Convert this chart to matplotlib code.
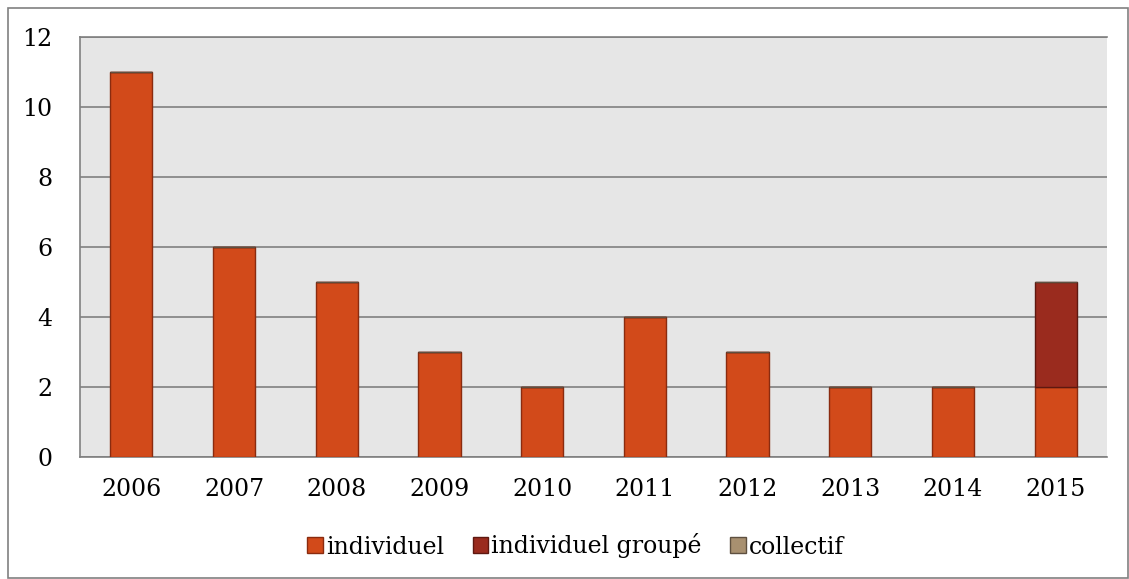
import numpy as np
import matplotlib.pyplot as plt
from matplotlib.patches import Rectangle

years = ['2006', '2007', '2008', '2009', '2010', '2011', '2012', '2013', '2014', '2015']
individuel = [11, 6, 5, 3, 2, 4, 3, 2, 2, 2]
individuel_groupe = [0, 0, 0, 0, 0, 0, 0, 0, 0, 3]
collectif = [0, 0, 0, 0, 0, 0, 0, 0, 0, 0]

plt.rcParams['font.family'] = ['DejaVu Serif']

fig = plt.figure(figsize=(11.29, 5.79), dpi=100)
ax = fig.add_axes([80 / 1129, 1 - 457 / 579, (1107 - 80) / 1129, (457 - 37) / 579])

# cadre extérieur
fig.patches.append(Rectangle((8 / 1129, 0.002), 1 - 8 / 1129 - 0.001, 1 - 8 / 579 - 0.002,
                             transform=fig.transFigure, fill=False,
                             edgecolor='#808080', linewidth=1.2))

x = np.arange(len(years))
w = 0.41
b1 = np.array(individuel)
b2 = b1 + np.array(individuel_groupe)

ax.bar(x, individuel, w, color='#D24A1A', edgecolor='#8A2B0F', linewidth=1, label='individuel', zorder=3)
ax.bar(x, individuel_groupe, w, bottom=b1, color='#9A2B1E', edgecolor='#5E1810', linewidth=1,
       label='individuel groupé', zorder=3)
ax.bar(x, collectif, w, bottom=b2, color='#A89070', edgecolor='#5E5040', linewidth=1,
       label='collectif', zorder=3)

ax.set_facecolor('#E6E6E6')
ax.set_xlim(-0.5, len(years) - 0.5)
ax.set_ylim(0, 12)
ax.set_yticks(range(0, 13, 2))
ax.set_xticks(x)
ax.set_xticklabels(years)
ax.yaxis.grid(True, color='#808080', linewidth=1.2, zorder=1)
ax.tick_params(axis='x', length=0, labelsize=17, pad=15)
ax.tick_params(axis='y', length=0, labelsize=17, pad=20)

ax.spines['right'].set_visible(False)
for s in ['left', 'top', 'bottom']:
    ax.spines[s].set_color('#808080')
    ax.spines[s].set_linewidth(1.2)

fig.legend(loc='center', bbox_to_anchor=(0.51, 1 - 546 / 579), ncol=3, frameon=False,
           fontsize=17, handlelength=0.65, handleheight=0.65, handletextpad=0.15,
           columnspacing=1.2)

plt.savefig('out.png')
